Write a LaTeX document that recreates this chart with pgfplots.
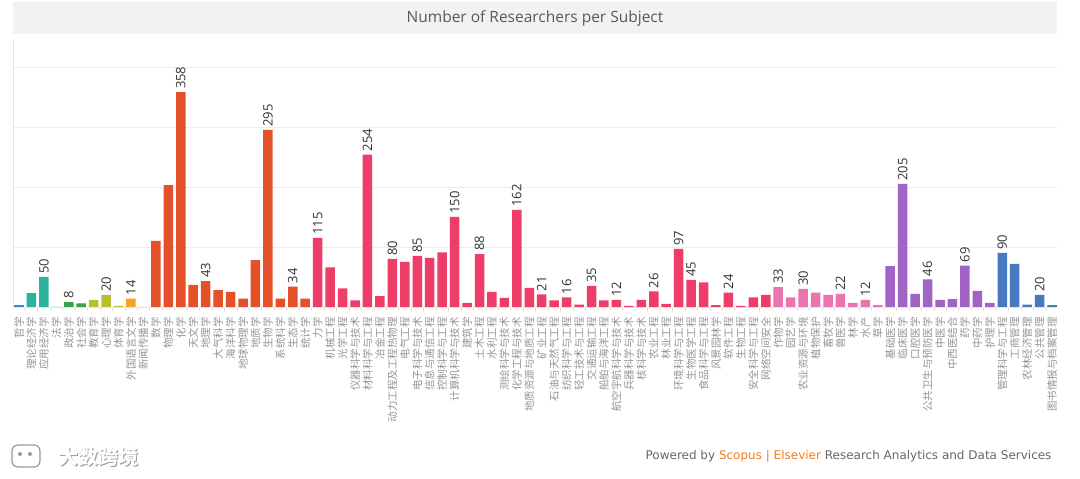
\documentclass[border=0pt]{standalone}
\usepackage{pgfplots}
\pgfplotsset{compat=1.18}
\usepackage{fontspec}
\setmainfont{Open Sans}
\newfontfamily\cjk{Noto Sans CJK SC}
\newfontfamily\footfont{DejaVu Sans}

\definecolor{cphil}{HTML}{2B8FCB}
\definecolor{cecon}{HTML}{2BB3A0}
\definecolor{claw}{HTML}{38A24A}
\definecolor{cedu}{HTML}{B8BE2E}
\definecolor{clit}{HTML}{F6A324}
\definecolor{csci}{HTML}{E4502A}
\definecolor{ceng}{HTML}{EE3D68}
\definecolor{cagr}{HTML}{EA74B0}
\definecolor{cmed}{HTML}{A064C4}
\definecolor{cman}{HTML}{4879BC}
\definecolor{scopus}{HTML}{F07D1E}

\begin{document}
\begin{tikzpicture}[x=1pt,y=1pt]
\path[use as bounding box] (0,0) rectangle (1080,479);
% title bar
\fill[gray!10] (13,445) rectangle (1057,477);
\node[font=\fontsize{15.5}{18}\selectfont, text=black!65] at (535,461) {Number of Researchers per Subject};

\begin{axis}[
    at={(13pt,172pt)}, anchor=south west,
    width=1044pt, height=267pt, scale only axis,
    ybar, bar width=9.5pt, bar shift=0pt,
    xmin=-0.48, xmax=83.4, ymin=0, ymax=445,
    axis x line*=bottom, axis y line*=left,
    axis line style={draw=black!10},
    ytick={100,200,300,400}, yticklabels={},
    ymajorgrids, major grid style={draw=black!7},
    major tick length=0pt,
    minor tick length=4pt,
    minor xtick={-0.5,0.5,...,83.5},
    tick align=outside,
    every tick/.style={draw=black!12},
    /pgf/number format/assume math mode=true,
    xtick={0,...,83},
    xticklabels={哲学,理论经济学,应用经济学,法学,政治学,社会学,教育学,心理学,体育学,外国语言文学,新闻传播学,
      数学,物理学,化学,天文学,地理学,大气科学,海洋科学,地球物理学,地质学,生物学,系统科学,生态学,统计学,
      力学,机械工程,光学工程,仪器科学与技术,材料科学与工程,冶金工程,动力工程及工程热物理,电气工程,电子科学与技术,
      信息与通信工程,控制科学与工程,计算机科学与技术,建筑学,土木工程,水利工程,测绘科学与技术,化学工程与技术,
      地质资源与地质工程,矿业工程,石油与天然气工程,纺织科学与工程,轻工技术与工程,交通运输工程,船舶与海洋工程,
      航空宇航科学与技术,兵器科学与技术,核科学与技术,农业工程,林业工程,环境科学与工程,生物医学工程,食品科学与工程,
      风景园林学,软件工程,生物工程,安全科学与工程,网络空间安全,
      作物学,园艺学,农业资源与环境,植物保护,畜牧学,兽医学,林学,水产,草学,
      基础医学,临床医学,口腔医学,公共卫生与预防医学,中医学,中西医结合,药学,中药学,护理学,
      管理科学与工程,工商管理,农林经济管理,公共管理,图书情报与档案管理},
    xticklabel style={rotate=90, anchor=east, inner sep=0pt,
      font=\cjk\fontsize{10.5}{11}\selectfont, text=black!42},
    xticklabel shift=10pt,
    clip=false,
]
% philosophy
\addplot[fill=cphil, draw=none] coordinates {(0,4)};
% economics
\addplot[fill=cecon, draw=none] coordinates {(1,23) (2,50)};
% law
\addplot[fill=claw, draw=none] coordinates {(3,0) (4,8) (5,6)};
% education
\addplot[fill=cedu, draw=none] coordinates {(6,12) (7,20) (8,2)};
% literature
\addplot[fill=clit, draw=none] coordinates {(9,14) (10,0)};
% science
\addplot[fill=csci, draw=none] coordinates {
(11,110) (12,203) (13,358) (14,37) (15,43) (16,28) (17,25) (18,14)
(19,78) (20,295) (21,14) (22,34) (23,14)};
% engineering
\addplot[fill=ceng, draw=none] coordinates {
(24,115) (25,66) (26,31) (27,11) (28,254) (29,18) (30,80) (31,75)
(32,85) (33,82) (34,91) (35,150) (36,7) (37,88) (38,25) (39,15)
(40,162) (41,32) (42,21) (43,11) (44,16) (45,4) (46,35) (47,11)
(48,12) (49,2) (50,12) (51,26) (52,5) (53,97) (54,45) (55,41)
(56,3) (57,24) (58,2) (59,16) (60,20)};
% agriculture
\addplot[fill=cagr, draw=none] coordinates {
(61,33) (62,16) (63,30) (64,24) (65,20) (66,22) (67,7) (68,12) (69,3)};
% medicine
\addplot[fill=cmed, draw=none] coordinates {
(70,68) (71,205) (72,22) (73,46) (74,12) (75,13) (76,69) (77,27) (78,7)};
% management
\addplot[fill=cman, draw=none] coordinates {
(79,90) (80,72) (81,4) (82,20) (83,3)};
% value labels
\addplot[draw=none, fill=none, nodes near coords,
    nodes near coords style={rotate=90, anchor=west, inner sep=3pt,
      font=\fontsize{13}{14}\selectfont, text=black!80}] coordinates {
(2,50) (4,8) (7,20) (9,14) (13,358) (15,43) (20,295) (22,34) (24,115)
(28,254) (30,80) (32,85) (35,150) (37,88) (40,162) (42,21) (44,16)
(46,35) (48,12) (51,26) (53,97) (54,45) (57,24) (61,33) (63,30)
(66,22) (68,12) (71,205) (73,46) (76,69) (79,90) (82,20)};
\end{axis}

% footer
\node[anchor=east, font=\footfont\fontsize{12}{14}\selectfont, text=black!60] at (1055,23)
  {Powered by \textcolor{scopus}{Scopus} \textcolor{scopus}{|} \textcolor{scopus}{Elsevier} Research Analytics and Data Services};

% watermark
\draw[black!40, line width=1.2pt, rounded corners=6pt] (12,12) rectangle (40,34);
\fill[black!40] (20,25) circle (2pt) (30,25) circle (2pt);
\node[anchor=west, font=\cjk\bfseries\fontsize{20}{22}\selectfont, text=black!40] at (56,21) {大数跨境};
\node[anchor=west, font=\cjk\bfseries\fontsize{20}{22}\selectfont, text=white] at (55,22) {大数跨境};
\end{tikzpicture}
\end{document}
